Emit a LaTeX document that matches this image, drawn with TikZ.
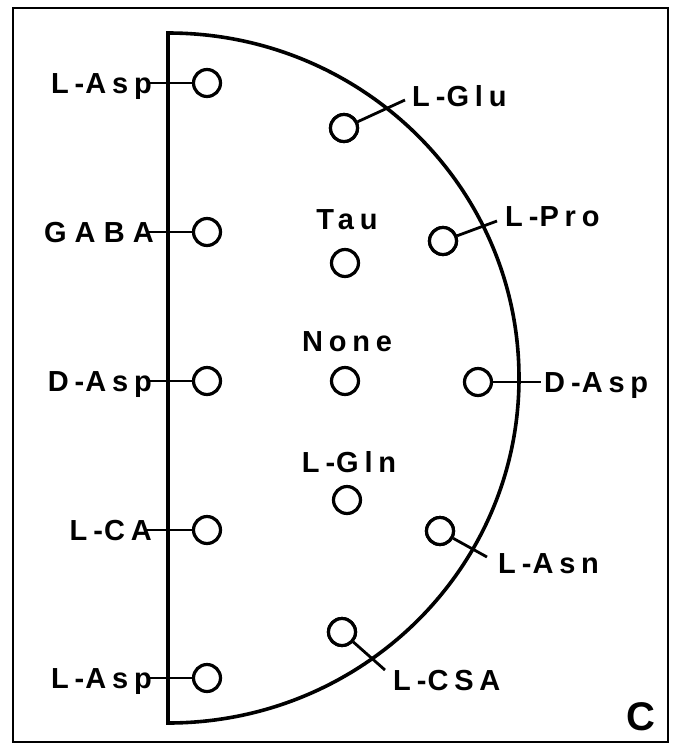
\documentclass[tikz,border=0pt]{standalone}
\usepackage{fontspec}
\setmainfont{Liberation Sans}
\newfontfamily\lblfont[LetterSpace=20]{Liberation Sans}
\newfontfamily\widefont[LetterSpace=28]{Liberation Sans}
\newcommand\lbldash{\kern6pt-\kern1pt}
\begin{document}
\begin{tikzpicture}[x=1pt,y=-1pt,
  dot/.style={circle,draw,line width=3.2pt,minimum size=27pt,inner sep=0pt},
  txt/.style={font=\lblfont\bfseries\fontsize{29}{32}\selectfont,inner sep=0pt,text height=21pt,text depth=0pt},
  conn/.style={line width=2.8pt},
  frame/.style={line width=2.8pt},
  shell/.style={line width=3.6pt,line join=miter}
]
\useasboundingbox (0,0) rectangle (679,748);
\draw[frame] (13,8) rectangle (668,742);
\draw[shell] (168,723) -- (168,33) arc[start angle=-90,end angle=90,x radius=351,y radius=345] -- cycle;
% left column
\node[dot] (c1) at (207,83) {};
\node[dot] (c2) at (207,232) {};
\node[dot] (c3) at (207,381) {};
\node[dot] (c4) at (207,530) {};
\node[dot] (c5) at (207,678) {};
\node[txt,anchor=east] (t1) at (152,83) {L\lbldash Asp};
\node[txt,anchor=east,font=\widefont\bfseries\fontsize{29}{32}\selectfont] (t2) at (154,232) {GABA};
\node[txt,anchor=east] (t3) at (152,381) {D\lbldash Asp};
\node[txt,anchor=east] (t4) at (152,530) {L\lbldash CA};
\node[txt,anchor=east] (t5) at (152,678) {L\lbldash Asp};
\foreach \i in {1,...,5} \draw[conn] ([xshift=-5pt]t\i.east) -- (c\i.west);
% middle column
\node[dot] (glu) at (344,128) {};
\node[dot] (tau) at (345,263) {};
\node[dot] (none) at (345,381) {};
\node[dot] (gln) at (347,500) {};
\node[dot] (csa) at (342,632) {};
\node[txt] (ttau) at (347,219) {Tau};
\node[txt] (tnone) at (347,341) {None};
\node[txt] (tgln) at (349,462) {L\lbldash Gln};
% right side
\node[dot] (pro) at (443,241) {};
\node[dot] (dasp) at (478,382) {};
\node[dot] (asn) at (440,531) {};
\node[txt,anchor=west] (tglu) at (412,95.5) {L\lbldash Glu};
\node[txt,anchor=west] (tpro) at (505,215.5) {L\lbldash Pro};
\node[txt,anchor=west] (tdasp) at (544,382) {D\lbldash Asp};
\node[txt,anchor=west] (tasn) at (498,562.5) {L\lbldash Asn};
\node[txt,anchor=west] (tcsa) at (393,680) {L\lbldash CSA};
\coordinate (eglu) at (405,100);
\coordinate (epro) at (497,221);
\coordinate (easn) at (487,557);
\coordinate (ecsa) at (385,670);
\draw[conn] (glu) -- (eglu);
\draw[conn] (pro) -- (epro);
\draw[conn] (dasp.east) -- ([xshift=-3pt]tdasp.west);
\draw[conn] (asn) -- (easn);
\draw[conn] (csa) -- (ecsa);
% redraw circles on top to hide connector starts
\foreach \n in {glu,pro,asn,csa} \node[dot,fill=white] at (\n) {};
\node[font=\bfseries\fontsize{40}{44}\selectfont,inner sep=0pt] (lc) at (641,717) {C};
\end{tikzpicture}
\end{document}
